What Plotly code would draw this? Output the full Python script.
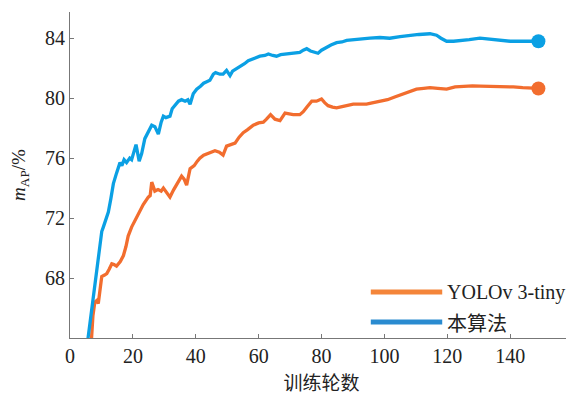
import plotly.graph_objects as go

# 本算法 (proposed method)
ours_epoch = [5.5, 6.5, 7.4, 8.2, 9.0, 10.1, 10.6, 11.7, 12.2, 13.0, 13.8, 14.8, 15.9, 16.5, 17.2, 18.0,
              19.0, 19.6, 21.0, 22.0, 22.8, 23.8, 25.0, 26.0, 27.0, 28.1, 29.0, 29.7, 30.5, 31.8, 32.5,
              33.6, 34.5, 35.5, 36.6, 37.5, 38.2, 39.2, 40.3, 41.5, 42.5, 43.5, 44.5, 45.6, 46.3, 47.7,
              48.7, 49.8, 50.9, 51.7, 52.5, 53.5, 54.6, 55.5, 56.7, 58.0, 59.0, 60.4, 62.0, 63.1, 64.5,
              65.7, 67.0, 68.5, 70.0, 71.5, 73.1, 74.2, 75.3, 76.5, 78.9, 80.0, 81.6, 83.0, 84.8, 86.5,
              88.0, 90.1, 92.0, 95.4, 98.6, 101.7, 105.0, 108.1, 111.0, 114.5, 115.8, 116.6, 118.0,
              119.8, 122.0, 124.0, 127.0, 130.4, 133.0, 135.7, 138.0, 140.0, 144.0, 149.0]
ours_map = [63.6, 65.3, 66.6, 68.0, 69.5, 71.1, 71.4, 72.2, 72.4, 73.3, 74.3, 75.0, 75.7, 75.5, 75.9, 75.7,
            76.0, 75.9, 76.9, 75.8, 76.3, 77.3, 77.8, 78.2, 78.1, 77.6, 78.4, 78.8, 78.7, 78.8, 79.3,
            79.6, 79.8, 79.9, 79.8, 79.9, 79.6, 80.3, 80.6, 80.8, 81.0, 81.1, 81.2, 81.6, 81.7, 81.6,
            81.6, 81.85, 81.5, 81.8, 81.9, 82.0, 82.2, 82.3, 82.5, 82.6, 82.7, 82.8, 82.85, 82.95, 82.85,
            82.8, 82.9, 82.95, 83.0, 83.05, 83.05, 83.2, 83.3, 83.15, 83.0, 83.2, 83.4, 83.55, 83.7, 83.75,
            83.85, 83.9, 83.95, 84.0, 84.05, 84.0, 84.1, 84.2, 84.25, 84.3, 84.25, 84.2, 84.0,
            83.8, 83.8, 83.82, 83.9, 84.0, 83.95, 83.9, 83.82, 83.8, 83.8, 83.8]

# YOLOv 3-tiny
yolo_epoch = [6.8, 7.3, 7.9, 8.5, 9.0, 9.6, 10.1, 11.0, 11.7, 12.5, 13.3, 14.0, 14.8, 16.0, 17.0, 17.8,
              18.5, 19.6, 20.1, 21.0, 21.7, 22.3, 23.3, 24.9, 25.5, 26.0, 26.5, 27.0, 28.0, 29.0, 29.7,
              30.7, 31.8, 33.0, 34.0, 35.5, 36.3, 37.1, 38.2, 39.5, 40.5, 41.3, 42.5, 43.5, 45.0, 46.1,
              47.5, 48.7, 49.8, 51.0, 52.5, 53.8, 55.1, 56.5, 58.3, 60.0, 61.5, 62.5, 63.8, 65.2, 66.8,
              68.4, 69.5, 71.0, 73.1, 74.2, 75.3, 76.9, 78.4, 80.0, 81.0, 82.1, 83.5, 84.8, 86.9, 88.5,
              90.1, 92.0, 94.3, 96.5, 98.6, 101.0, 103.5, 106.0, 108.0, 110.2, 112.5, 114.5, 117.0,
              119.8, 122.5, 125.1, 128.0, 130.4, 134.0, 137.8, 141.0, 144.0, 146.5, 149.0]
yolo_map = [63.8, 65.5, 66.4, 66.5, 66.3, 67.3, 68.1, 68.2, 68.3, 68.6, 68.95, 68.9, 68.8, 69.1, 69.5, 70.1,
            70.8, 71.4, 71.6, 71.9, 72.2, 72.4, 72.9, 73.4, 73.5, 74.4, 74.0, 73.8, 73.9, 73.8, 74.0,
            73.7, 73.4, 73.9, 74.3, 74.8, 74.6, 74.2, 75.3, 75.5, 75.8, 76.0, 76.2, 76.3, 76.4, 76.5,
            76.4, 76.2, 76.8, 76.9, 77.0, 77.4, 77.7, 77.9, 78.2, 78.35, 78.4, 78.6, 78.9, 78.6, 78.5,
            79.0, 78.95, 78.9, 78.9, 79.1, 79.4, 79.8, 79.8, 79.95, 79.7, 79.5, 79.4, 79.35, 79.45, 79.5,
            79.6, 79.6, 79.6, 79.7, 79.8, 79.9, 80.1, 80.3, 80.45, 80.6, 80.65, 80.7, 80.65,
            80.6, 80.75, 80.8, 80.82, 80.8, 80.8, 80.78, 80.75, 80.7, 80.68, 80.65]

x_ticks = [0, 20, 40, 60, 80, 100, 120, 140]
y_ticks = [68, 72, 76, 80, 84]
legend_names = ["YOLOv 3-tiny", "本算法"]

BLUE = "#0ba0e4"
ORANGE = "#f26d2e"
LEG_BLUE = "#2a8bd0"
LEG_ORANGE = "#f4853a"
SERIF = "'Liberation Serif', 'Times New Roman', 'DejaVu Serif', serif"
CJK = "'Noto Sans CJK SC', 'Liberation Serif', serif"

fig = go.Figure()
fig.add_trace(go.Scatter(x=yolo_epoch, y=yolo_map, mode="lines",
                         line=dict(color=ORANGE, width=3.3), showlegend=False))
fig.add_trace(go.Scatter(x=ours_epoch, y=ours_map, mode="lines",
                         line=dict(color=BLUE, width=3.3), showlegend=False))
fig.add_trace(go.Scatter(x=[yolo_epoch[-1]], y=[yolo_map[-1]], mode="markers",
                         marker=dict(color=ORANGE, size=14), showlegend=False))
fig.add_trace(go.Scatter(x=[ours_epoch[-1]], y=[ours_map[-1]], mode="markers",
                         marker=dict(color=BLUE, size=14), showlegend=False))

# legend drawn manually (bottom right)
leg_y = [0.141, 0.049]
leg_cols = [LEG_ORANGE, LEG_BLUE]
for name, yy, col in zip(legend_names, leg_y, leg_cols):
    fig.add_shape(type="line", xref="paper", yref="paper", x0=0.598, x1=0.740, y0=yy, y1=yy,
                  line=dict(color=col, width=5))
    fig.add_annotation(xref="paper", yref="paper", x=0.745, y=yy, xanchor="left", yanchor="middle",
                       text=name, showarrow=False,
                       font=dict(family=SERIF if name.isascii() else CJK, size=20, color="#222"))

# The page body adds an 8 px offset, so the figure is sized to fit the window.
fig.update_layout(
    width=566, height=390,
    margin=dict(l=62, r=1, t=4, b=60),
    plot_bgcolor="white", paper_bgcolor="white",
    xaxis=dict(range=[0, 160], tickvals=x_ticks,
               ticks="inside", ticklen=4, tickcolor="#777", showline=True, linecolor="#777", linewidth=1,
               showgrid=False, zeroline=False,
               minor=dict(tickvals=[160], ticks="inside", ticklen=4, tickcolor="#777"),
               tickfont=dict(family=SERIF, size=20, color="#222"),
               title=dict(text="训练轮数", font=dict(family=CJK, size=19, color="#222"), standoff=10)),
    yaxis=dict(range=[64, 85.75], tickvals=y_ticks, ticks="inside", ticklen=4, tickcolor="#777",
               showline=True, linecolor="#777", linewidth=1, showgrid=False, zeroline=False,
               tickfont=dict(family=SERIF, size=20, color="#222"),
               title=dict(text="<i>m</i><sub>AP</sub>/%", font=dict(family=SERIF, size=19, color="#222"),
                          standoff=16)),
)

fig.write_html("out.html")
